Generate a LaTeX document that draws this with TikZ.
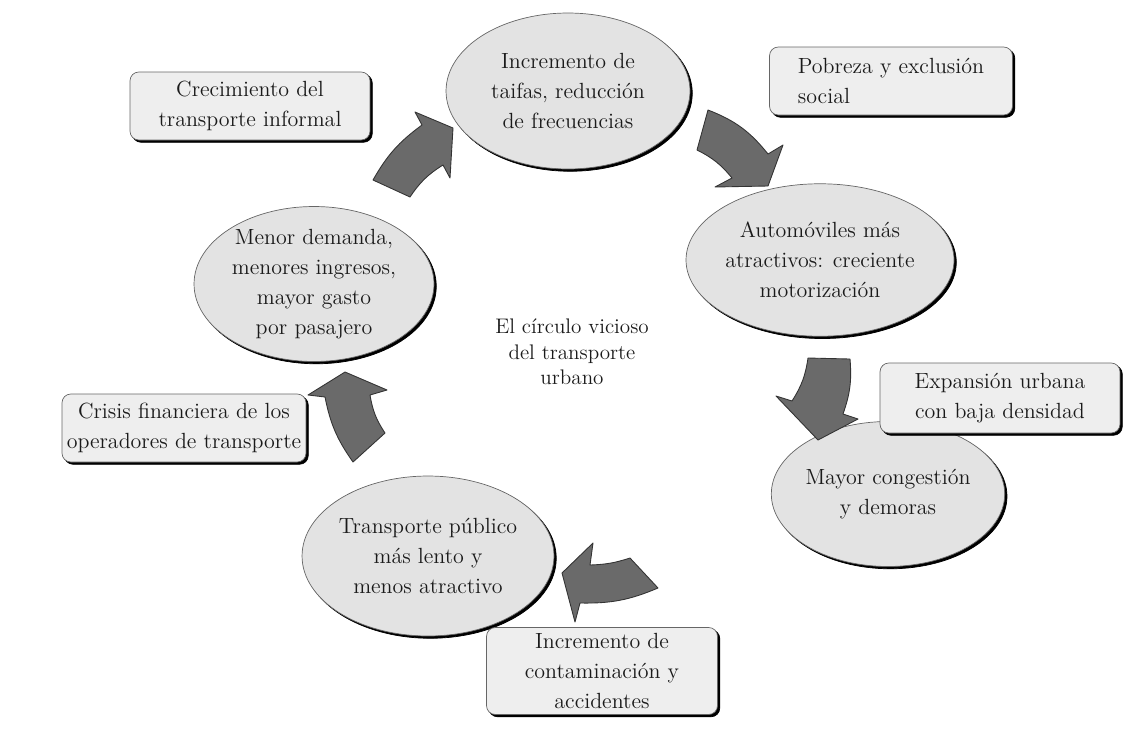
\documentclass[tikz,border=0pt]{standalone}
\usetikzlibrary{shapes.geometric,shadows}

\definecolor{ovalgray}{HTML}{E3E3E3}
\definecolor{boxgray}{HTML}{EEEEEE}
\definecolor{arrowgray}{HTML}{6A6A6A}
\definecolor{inkgray}{HTML}{1A1A1A}

\tikzset{
  oval/.style={ellipse, draw=black!60, fill=ovalgray, inner sep=0pt, align=center,
    text=inkgray, font=\fontsize{12.5}{17}\selectfont,
    copy shadow={shadow xshift=1.3pt, shadow yshift=-1.3pt, draw=black, fill=black}},
  causebox/.style={rectangle, rounded corners=5pt, draw=black!60, fill=boxgray, inner sep=0pt,
    align=center, text=inkgray, font=\fontsize{12.5}{17}\selectfont,
    minimum width=4.8cm, minimum height=1.36cm,
    copy shadow={shadow xshift=1.3pt, shadow yshift=-1.3pt, draw=black, fill=black}},
  cyclearrow/.style={fill=arrowgray, draw=black!80, line width=0.5pt, line join=round}
}

\begin{document}
\begin{tikzpicture}[x=0.02cm, y=-0.02cm]
    \useasboundingbox (0,0) rectangle (1135,731);

    % Ellipses of the cycle
    \node[oval, minimum width=4.88cm, minimum height=3.12cm] (taifas) at (568,91)
        {Incremento de\\taifas, reducción\\de frecuencias};
    \node[oval, minimum width=4.2cm, minimum height=3.05cm] (autos) at (820,260)
        {Automóviles más\\atractivos: creciente\\motorización};
    \node[oval, minimum width=4.6cm, minimum height=2.9cm] (congestion) at (888,494)
        {Mayor congestión\\y demoras};
    \node[oval, minimum width=4.6cm, minimum height=3.2cm] (lento) at (428,556)
        {Transporte público\\más lento y\\menos atractivo};
    \node[oval, minimum width=4.8cm, minimum height=3.1cm] (demanda) at (314,284)
        {Menor demanda,\\menores ingresos,\\mayor gasto\\por pasajero};

    % Centre label
    \node[text=inkgray, align=center, font=\fontsize{12}{14.5}\selectfont] (titulo) at (572,352)
        {El círculo vicioso\\del transporte\\urbano};

    % Side boxes
    \node[causebox] (informal) at (250,106) {Crecimiento del\\transporte informal};
    \node[causebox, minimum width=4.86cm, align=left] (pobreza) at (891,81) {Pobreza y exclusión\\social};
    \node[causebox, minimum height=1.4cm] (expansion) at (1000,398) {Expansión urbana\\con baja densidad};
    \node[causebox, minimum width=4.88cm] (crisis) at (184,428) {Crisis financiera de los\\operadores de transporte};
    \node[causebox, minimum width=4.62cm, minimum height=1.74cm] (contaminacion) at (602,671)
        {Incremento de\\contaminación y\\accidentes};

    % Curved block arrows
    \filldraw[cyclearrow] (697,150) -- (708,110) to[bend left=15] (768,154) -- (783,145)
        -- (768,186) -- (715,187) -- (732,178) to[bend right=12] (697,150) -- cycle;
    \filldraw[cyclearrow] (808,358) -- (850,359) to[bend left=12] (843,414) -- (858,419)
        -- (818,440) -- (776,396) -- (792,401) to[bend right=12] (808,358) -- cycle;
    \filldraw[cyclearrow] (630,558) to[bend left=8] (590,565) -- (593,543) -- (562,573)
        -- (575,622) -- (580,603) to[bend right=12] (658,588) -- cycle;
    \filldraw[cyclearrow] (353,462) to[bend left=12] (325,397) -- (308,395) -- (345,372)
        -- (387,390) -- (370,395) to[bend right=12] (385,433) -- cycle;
    \filldraw[cyclearrow] (373,180) to[bend left=12] (422,125) -- (415,112) -- (453,128)
        -- (450,178) -- (443,165) to[bend right=12] (410,197) -- cycle;
\end{tikzpicture}
\end{document}
